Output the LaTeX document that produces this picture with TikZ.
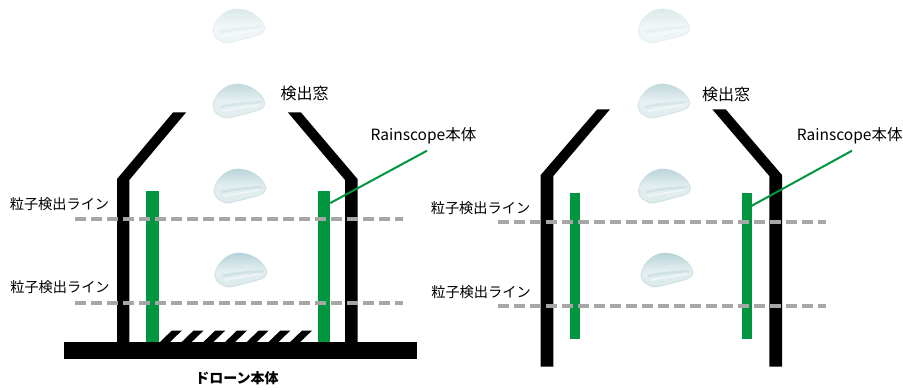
\documentclass[tikz,border=0pt]{standalone}
\usepackage{fontspec}
\setmainfont{Noto Sans CJK JP}
\usetikzlibrary{calc}
\definecolor{barGreen}{HTML}{009640}
\definecolor{lineGray}{HTML}{A6A6A6}
\definecolor{dropEdge}{HTML}{B4CFD3}
\definecolor{dropBody}{HTML}{DCEAEC}
\definecolor{dropDark}{HTML}{B7D3D8}

\begin{document}
\begin{tikzpicture}[x=1pt,y=-1pt]
\tikzset{wall/.style = {fill=black,draw=none}}
\tikzset{bar/.style = {shape=rectangle,fill=barGreen,minimum width=#1,inner sep=0pt,outer sep=0pt}}
\tikzset{detect/.style = {draw=lineGray,line width=4pt,dash pattern=on 11pt off 5pt}}
\tikzset{leader/.style = {draw=barGreen,line width=2pt}}
\tikzset{label/.style = {font=\fontsize{14.2pt}{16pt}\selectfont,inner sep=0pt}}
\tikzset{biglabel/.style = {font=\fontsize{15.5pt}{16pt}\selectfont,inner sep=0pt}}
\tikzset{drop/.pic = {
  \path[top color=dropDark,bottom color=dropBody,middle color=dropBody!80!white]
    (-26,5) .. controls (-25,-6) and (-14,-17) .. (-2,-17)
    .. controls (10,-17) and (23,-9) .. (26,2)
    .. controls (26,5) and (24,7) .. (20,9)
    .. controls (10,12) and (-2,15) .. (-11,17)
    .. controls (-18,17) and (-26,12) .. (-26,5) -- cycle;
  % soft rim
  \draw[dropEdge,line width=1pt,opacity=.5]
    (-26,5) .. controls (-25,-6) and (-14,-17) .. (-2,-17)
    .. controls (10,-17) and (23,-9) .. (26,2)
    .. controls (26,5) and (24,7) .. (20,9)
    .. controls (10,12) and (-2,15) .. (-11,17)
    .. controls (-18,17) and (-26,12) .. (-26,5) -- cycle;
  % bands near the bottom
  \draw[dropDark,line width=2.5pt,opacity=.45,line cap=round]
    (-18,6) .. controls (-6,3) and (10,2) .. (22,1);
  \draw[white,line width=2pt,opacity=.45,line cap=round]
    (-16,10) .. controls (-6,8) and (8,6) .. (19,4);
  % fade towards the top of the column
  \fill[white,opacity=#1] (-28,-19) rectangle (28,19);
}}
\useasboundingbox (0,0) rectangle (903,390);

% drops, left and right
\pic at (239,26) {drop=.5};
\pic at (239,101) {drop=.15};
\pic at (240,186) {drop=.05};
\pic at (241,270) {drop=0};
\pic at (664,26) {drop=.5};
\pic at (664,101) {drop=.15};
\pic at (664.5,186) {drop=.05};
\pic at (667,270) {drop=0};

% left: green bars and detection lines
\node[bar=12.5pt,minimum height=151pt] (barLa) at (152.7,266.5) {};
\node[bar=12.5pt,minimum height=151pt] (barLb) at (324,266.5) {};

% left: housing on the base
\fill[wall] (117,342) -- (117,179) -- (173,112.5) -- (186,112.5) -- (129.3,180) -- (129.3,342) -- cycle;
\fill[wall] (357.5,342) -- (357.5,179) -- (301,112.5) -- (288,112.5) -- (345,180) -- (345,342) -- cycle;
\fill[wall] (63.5,342) rectangle (417,358.7);
\foreach \i in {0,...,6}
  \fill[wall] ({160+21.7*\i},342) -- ({171.7+21.7*\i},330.7) -- ({181.7+21.7*\i},330.7) -- ({170+21.7*\i},342) -- cycle;
\draw[detect] (75,219) -- (403,219);
\draw[detect] (75,303.3) -- (403,303.3);

% right: walls, green bars and detection lines
\fill[wall] (540.7,366.7) -- (540.7,175) -- (597.3,109.3) -- (610,109.3) -- (553.3,176) -- (553.3,366.7) -- cycle;
\fill[wall] (782,366.7) -- (782,175) -- (725.7,109.3) -- (712.3,109.3) -- (769.3,176) -- (769.3,366.7) -- cycle;
\node[bar=10pt,minimum height=146.3pt] (barRa) at (575,265.9) {};
\node[bar=10pt,minimum height=146.3pt] (barRb) at (746.5,265.9) {};
\draw[detect] (497.7,222) -- (825.7,222);
\draw[detect] (497.7,306) -- (825.7,306);

% labels
\node[biglabel,font=\fontsize{16pt}{16pt}\selectfont] (winL) at (304.5,93) {検出窓};
\node[biglabel,font=\fontsize{16pt}{16pt}\selectfont] (winR) at (726,94.3) {検出窓};
\node[biglabel] (bodyL) at (423.5,136) {Rainscope本体};
\node[biglabel] (bodyR) at (849.7,136) {Rainscope本体};
\node[label] (lineLa) at (59.5,204.5) {粒子検出ライン};
\node[label] (lineLb) at (60,287.5) {粒子検出ライン};
\node[label] (lineRa) at (480.5,208.3) {粒子検出ライン};
\node[label] (lineRb) at (481,292.5) {粒子検出ライン};
\node[label,font=\fontsize{14pt}{16pt}\selectfont\bfseries] (drone) at (237,378) {ドローン本体};

% leaders
\coordinate (tipL) at (427,150.7);
\coordinate (tipR) at (852,150.7);
\coordinate (hitL) at ($(barLb.north east)!.08!(barLb.south east)$);
\coordinate (hitR) at ($(barRb.north east)!.09!(barRb.south east)$);
\draw[leader] (tipL) -- (hitL);
\draw[leader] (tipR) -- (hitR);
\end{tikzpicture}
\end{document}
